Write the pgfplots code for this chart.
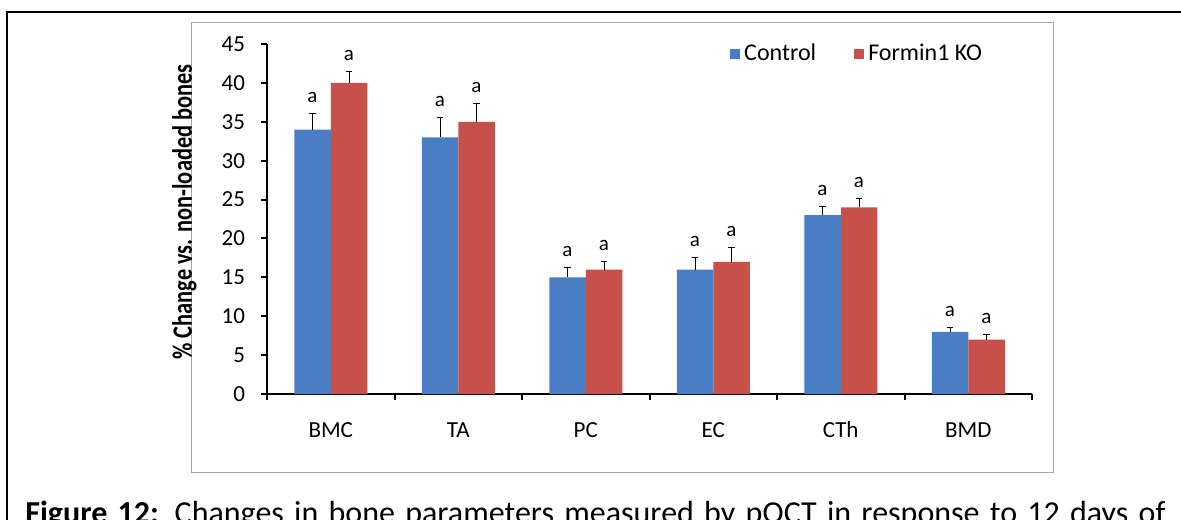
\documentclass[border=0pt]{standalone}
\usepackage{pgfplots}
\pgfplotsset{compat=1.18}
\usepackage{pgfplotstable}
\usepackage{fontspec}
\setmainfont{Carlito}

\definecolor{ctrlblue}{HTML}{4A7EC4}
\definecolor{kored}{HTML}{C8504A}

% % change vs. non-loaded bones, mean and SE
\pgfplotstableread{
pos ctrl ctrlerr ko koerr
0.5 34 2.0 40 1.4
1.5 33 2.5 35 2.3
2.5 15 1.2 16 1.0
3.5 16 1.6 17 1.8
4.5 23 1.1 24 1.1
5.5 8 0.5 7 0.7
}\bonedata

\begin{document}
\begin{tikzpicture}
\path[use as bounding box] (0,0) rectangle (590.5pt,259.5pt);
\clip (0,0) rectangle (590.5pt,259.5pt);
% page frame
\draw[line width=0.8pt] (3.5pt,-2pt) -- (3.5pt,253.5pt) -- (595pt,253.5pt);
% chart area
\draw[gray!70, line width=0.5pt] (95.5pt,23.5pt) rectangle (526.5pt,248pt);

\begin{axis}[
  at={(133.5pt,62.5pt)}, anchor=south west,
  scale only axis, width=382.5pt, height=175pt,
  xmin=0, xmax=6, ymin=0, ymax=45,
  axis x line=bottom, axis y line=left,
  axis line style={-, line width=1pt},
  tick align=outside, major tick length=3pt,
  every tick/.style={black, line width=1pt},
  ytick={0,5,...,45},
  xtick={0.5,1.5,2.5,3.5,4.5,5.5},
  xticklabels={BMC,TA,PC,EC,CTh,BMD},
  minor xtick={0,1,...,6},
  minor tick length=3pt,
  major x tick style={draw=none},
  /pgf/number format/assume math mode=true,
  tick label style={font=\fontsize{11.5}{13}\selectfont},
  yticklabel style={xshift=-4.5pt},
  xticklabel style={anchor=base, yshift=-18.5pt},
  ylabel={\scalebox{0.8}[1]{\bfseries\% Change vs. non-loaded bones}},
  ylabel style={at={(axis description cs:-0.108,0.52)}, anchor=center, font=\fontsize{14}{16}\selectfont},
  ybar=0pt, bar width=18.25pt,
  legend columns=2,
  legend style={at={(axis description cs:0.605,0.972)}, anchor=west,
    draw=none, fill=none, inner sep=0pt,
    font=\fontsize{12}{14}\selectfont,
    /tikz/every even column/.append style={column sep=17pt}},
  legend image code/.code={\fill[#1,draw=none] (0pt,-2.5pt) rectangle (5pt,2.5pt);},
  error bars/error bar style={black, line width=0.5pt},
  error bars/error mark options={rotate=90, mark size=1.6pt, line width=0.5pt},
]
\addplot[fill=ctrlblue, draw=none,
  error bars/.cd, y dir=plus, y explicit]
  table[x=pos, y=ctrl, y error=ctrlerr] {\bonedata};
\addlegendentry{Control}
\addplot[fill=kored, draw=none,
  error bars/.cd, y dir=plus, y explicit]
  table[x=pos, y=ko, y error=koerr] {\bonedata};
\addlegendentry{Formin1 KO}

% significance letters above the error bars
\begin{scope}[every node/.style={anchor=base, inner sep=0pt, font=\fontsize{10.5}{12}\selectfont, yshift=5.5pt}]
\node[xshift=-9.125pt] at (axis cs:0.5,36.0) {a};
\node[xshift=9.125pt]  at (axis cs:0.5,41.4) {a};
\node[xshift=-9.125pt] at (axis cs:1.5,35.5) {a};
\node[xshift=9.125pt]  at (axis cs:1.5,37.3) {a};
\node[xshift=-9.125pt] at (axis cs:2.5,16.2) {a};
\node[xshift=9.125pt]  at (axis cs:2.5,17.0) {a};
\node[xshift=-9.125pt] at (axis cs:3.5,17.6) {a};
\node[xshift=9.125pt]  at (axis cs:3.5,18.8) {a};
\node[xshift=-9.125pt] at (axis cs:4.5,24.1) {a};
\node[xshift=9.125pt]  at (axis cs:4.5,25.1) {a};
\node[xshift=-9.125pt] at (axis cs:5.5,8.5) {a};
\node[xshift=9.125pt]  at (axis cs:5.5,7.7) {a};
\end{scope}
\end{axis}

% figure caption
\node[anchor=base west, inner sep=0pt, font=\fontsize{16}{18}\selectfont] at (12.5pt,-2pt)
  {\makebox[570pt][s]{\textbf{Figure 12:} Changes in bone parameters measured by pQCT in response to 12 days of}};
\end{tikzpicture}
\end{document}
